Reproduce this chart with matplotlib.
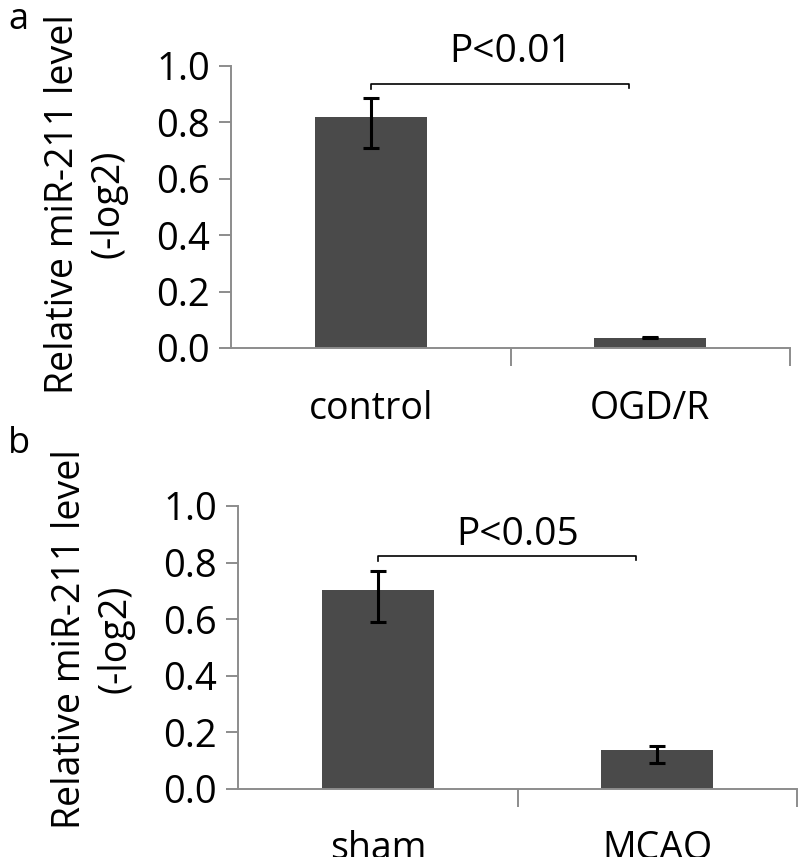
import matplotlib
matplotlib.use("Agg")
import matplotlib.pyplot as plt

plt.rcParams['font.family'] = ['Open Sans', 'DejaVu Sans']

# Panel a data
cats_a = ["control", "OGD/R"]
vals_a = [0.818, 0.037]
err_lo_a = [0.110, 0.003]
err_hi_a = [0.067, 0.003]
p_a = "P<0.01"

# Panel b data
cats_b = ["sham", "MCAO"]
vals_b = [0.702, 0.137]
err_lo_b = [0.111, 0.047]
err_hi_b = [0.069, 0.014]
p_b = "P<0.05"

yticks = [0.0, 0.2, 0.4, 0.6, 0.8, 1.0]
ylabel = "Relative miR-211 level\n(-log2)"

W, H = 800, 857
fig = plt.figure(figsize=(W / 100, H / 100), dpi=100)

AX_COL = "#8c8c8c"
BAR_COL = "#4a4a4a"


def px_rect(l, t, r, b):
    return [l / W, 1 - b / H, (r - l) / W, (b - t) / H]


def panel(rect, cats, vals, lo, hi, ptext, bracket_y, ptext_y, label_xy, letter, letter_xy):
    ax = fig.add_axes(rect)
    x = list(range(len(cats)))
    ax.bar(x, vals, width=0.40, color=BAR_COL, zorder=2)
    ax.errorbar(x, vals, yerr=[lo, hi], fmt="none", ecolor="black",
                elinewidth=2.2, capsize=6, capthick=2.2, zorder=3)
    ax.set_xlim(-0.5, len(cats) - 0.5)
    ax.set_ylim(0, 1.0)
    for s in ["top", "right"]:
        ax.spines[s].set_visible(False)
    for s in ["left", "bottom"]:
        ax.spines[s].set_color(AX_COL)
        ax.spines[s].set_linewidth(1.4)
    ax.set_yticks(yticks)
    ax.set_yticklabels([f"{v:.1f}" for v in yticks])
    ax.tick_params(axis="y", length=9, width=1.4, color=AX_COL, pad=6,
                   labelsize=27.5)
    ax.set_xticks([i + 0.5 for i in x])
    ax.set_xticklabels([])
    ax.tick_params(axis="x", which="major", length=13, width=1.4, color=AX_COL)
    ax.set_xticks(x, minor=True)
    ax.set_xticklabels(cats, minor=True)
    ax.tick_params(axis="x", which="minor", length=0, pad=30, labelsize=27)
    # significance bracket
    ax.plot([0, 0, 0.925, 0.925], [bracket_y - 0.018, bracket_y, bracket_y, bracket_y - 0.015],
            color="black", lw=1.2, clip_on=False)
    ax.text(0.5, ptext_y, ptext, ha="center", va="center", fontsize=28, clip_on=False)
    fig.text(label_xy[0] / W, 1 - label_xy[1] / H, ylabel, rotation=90,
             ha="center", va="center", fontsize=27, multialignment="center",
             linespacing=1.25)
    fig.text(letter_xy[0] / W, 1 - letter_xy[1] / H, letter, ha="left", va="center",
             fontsize=26)
    return ax


panel(px_rect(231, 65.7, 790, 348), cats_a, vals_a, err_lo_a, err_hi_a, p_a,
      0.936, 1.047, (86, 204), "a", (8, 20))
panel(px_rect(238, 506, 797, 788.7), cats_b, vals_b, err_lo_b, err_hi_b, p_b,
      0.823, 0.897, (93, 639), "b", (8, 444))

fig.savefig("out.png", dpi=100)
